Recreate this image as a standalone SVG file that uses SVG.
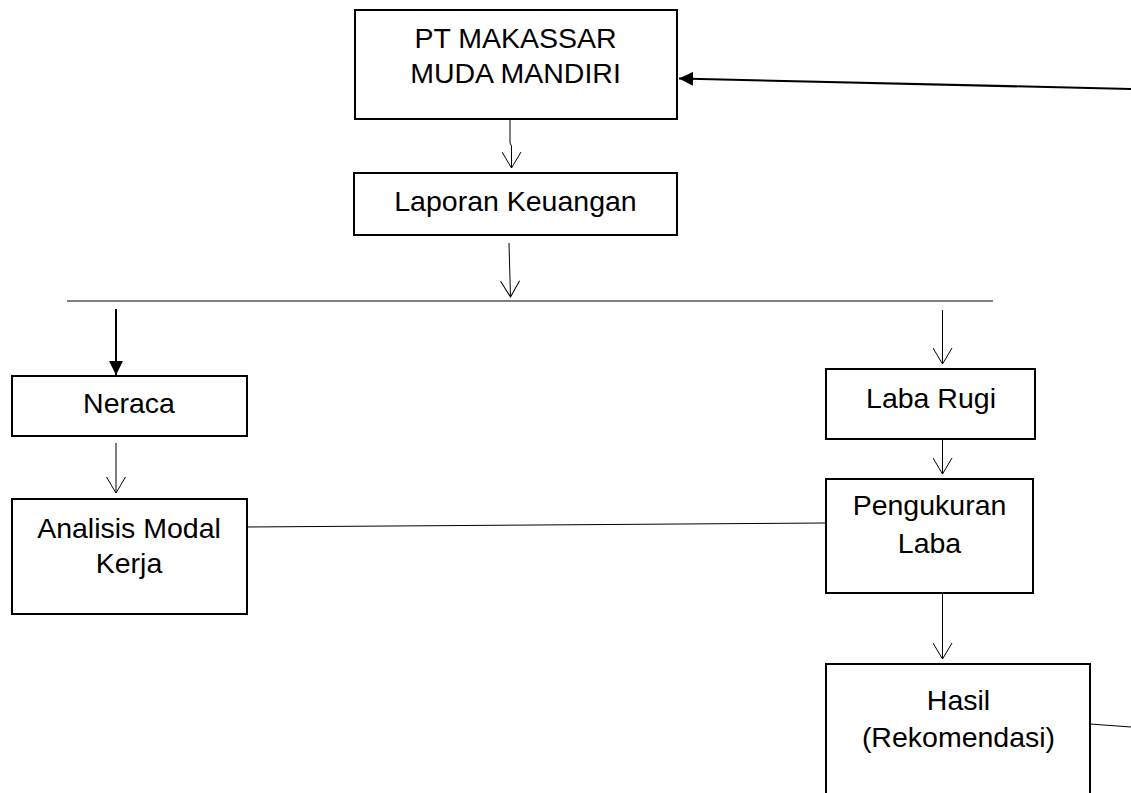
<svg xmlns="http://www.w3.org/2000/svg" width="1131" height="793" viewBox="0 0 1131 793">
<defs>
<style>
.box{fill:#fff;stroke:#000;stroke-width:2}
.t{font-family:"Liberation Sans",Arial,sans-serif;font-size:28.5px;fill:#000;text-anchor:middle}
.c{fill:none;stroke:#000;stroke-width:1}
.ct{fill:none;stroke:#000;stroke-width:2}
</style>
<marker id="open" viewBox="0 0 18 20" refX="17" refY="10" markerWidth="18" markerHeight="20" markerUnits="userSpaceOnUse" orient="auto">
<path d="M1,0.5 L17,10 L1,19.5" fill="none" stroke="#000" stroke-width="1"/>
</marker>
<marker id="solid" viewBox="0 0 14 14" refX="14" refY="7" markerWidth="14" markerHeight="14" markerUnits="userSpaceOnUse" orient="auto">
<path d="M0,0 L14,7 L0,14 z" fill="#000"/>
</marker>
</defs>
<rect width="1131" height="793" fill="#fff"/>
<g id="connectors">
<polyline class="c" points="510,115 510,143 511.5,146 511.5,168" marker-end="url(#open)"/>
<line class="c" x1="509" y1="243" x2="510.5" y2="297" marker-end="url(#open)"/>
<line class="c" x1="67" y1="301" x2="993" y2="301"/>
<line class="ct" x1="116" y1="309" x2="116" y2="375" marker-end="url(#solid)"/>
<line class="c" x1="116" y1="443" x2="116" y2="493" marker-end="url(#open)"/>
<line class="c" x1="942.5" y1="310" x2="942.5" y2="364" marker-end="url(#open)"/>
<line class="c" x1="942.5" y1="429" x2="942.5" y2="474" marker-end="url(#open)"/>
<line class="c" x1="942.5" y1="593" x2="942.5" y2="659" marker-end="url(#open)"/>
<line class="c" x1="247" y1="527" x2="826" y2="523"/>
<line class="c" x1="1090" y1="724" x2="1131" y2="727"/>
<line class="ct" x1="1131" y1="89" x2="679" y2="78.5" marker-end="url(#solid)"/>
</g>
<g id="pt">
<rect class="box" x="355" y="10" width="322" height="109"/>
<text class="t" x="515.5" y="48">PT MAKASSAR</text>
<text class="t" x="515.5" y="83">MUDA MANDIRI</text>
</g>
<g id="laporan">
<rect class="box" x="354" y="173" width="323" height="62"/>
<text class="t" x="515.5" y="211">Laporan Keuangan</text>
</g>
<g id="neraca">
<rect class="box" x="12" y="376" width="235" height="60"/>
<text class="t" x="129" y="413">Neraca</text>
</g>
<g id="analisis">
<rect class="box" x="12" y="499" width="235" height="115"/>
<text class="t" x="129" y="538">Analisis Modal</text>
<text class="t" x="129" y="573">Kerja</text>
</g>
<g id="labarugi">
<rect class="box" x="826" y="369" width="209" height="70"/>
<text class="t" x="931" y="408">Laba Rugi</text>
</g>
<g id="pengukuran">
<rect class="box" x="826" y="479" width="207" height="114"/>
<text class="t" x="929.5" y="515">Pengukuran</text>
<text class="t" x="929.5" y="552.5">Laba</text>
</g>
<g id="hasil">
<rect class="box" x="826" y="664" width="264" height="160"/>
<text class="t" x="958.5" y="710">Hasil</text>
<text class="t" x="958.5" y="746.5">(Rekomendasi)</text>
</g>
</svg>
